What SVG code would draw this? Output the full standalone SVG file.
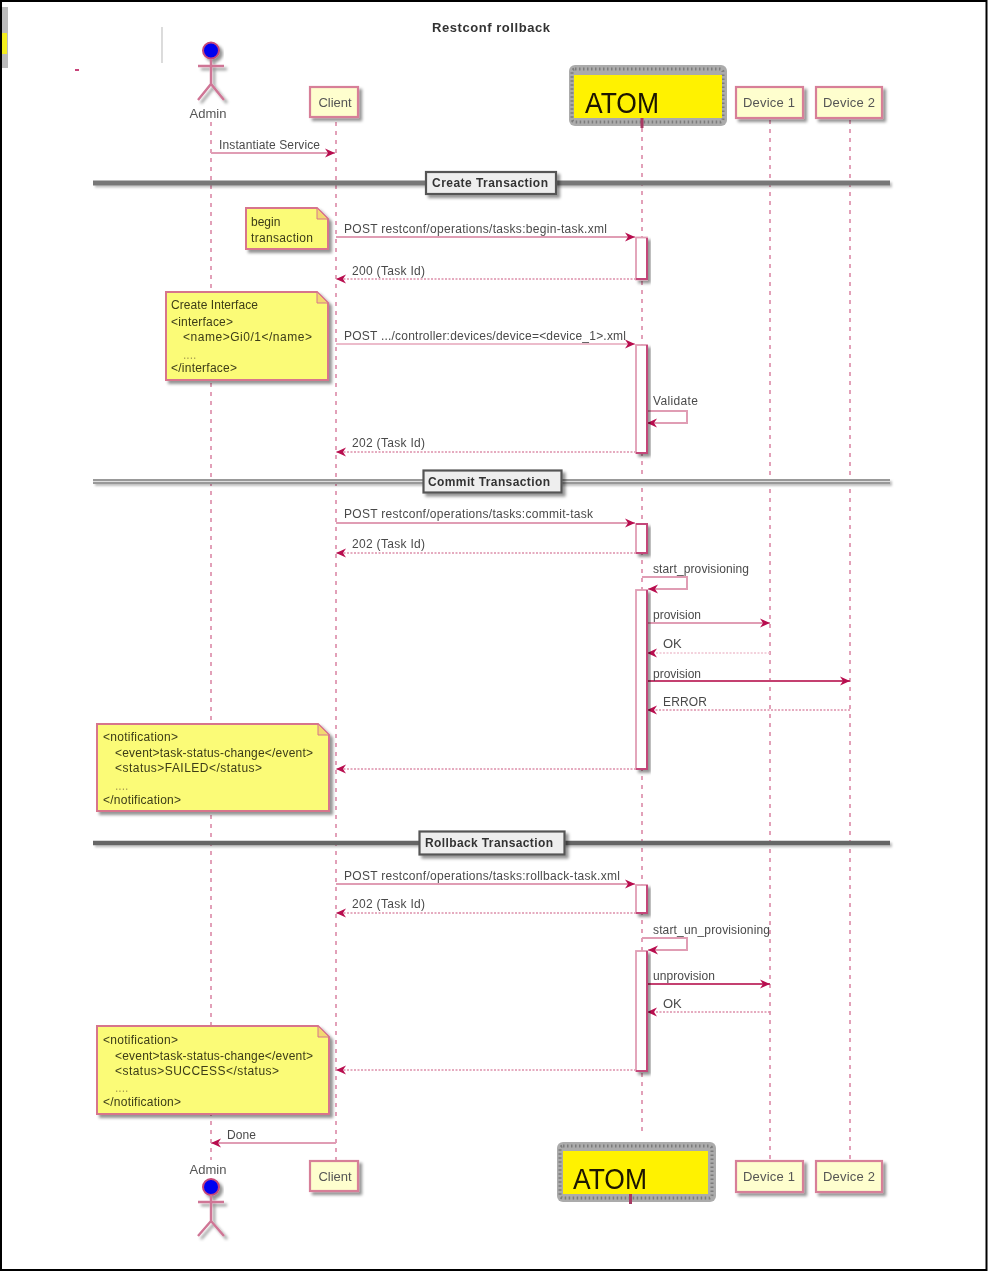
<svg xmlns="http://www.w3.org/2000/svg" width="988" height="1272" viewBox="0 0 988 1272">
<style>
text{font-family:"Liberation Sans",Arial,sans-serif;font-size:12px;fill:#4a4a4a;filter:url(#soft)}
.n{fill:#3c3c18;font-size:12px}
.p{font-size:13px;fill:#555}
.d{font-weight:bold;fill:#333;font-size:12px}
.life{stroke:#e2a0b8;stroke-width:2;stroke-dasharray:4 5;fill:none}
.sol{stroke:#e09db4;stroke-width:2;fill:none;marker-end:url(#ah)}
.dark{stroke:#c4406f;stroke-width:2;fill:none;marker-end:url(#ah)}
.dash{stroke:#dd90aa;stroke-width:1.6;stroke-dasharray:2 1.5;fill:none;marker-end:url(#ah)}
.part{fill:#FEFECE;stroke:#d77f98;stroke-width:2.2;filter:url(#sh)}
.note{fill:#FBFB77;stroke:#d7748c;stroke-width:2;filter:url(#sh)}
.fold{fill:#F2D870;stroke:#d7748c;stroke-width:1}
.act{fill:#fff;stroke:#e09db4;stroke-width:1.8;filter:url(#sh)}
.actr{stroke:#c4477a;stroke-width:2;fill:none}
.actor{fill:none;stroke:#cf7595;stroke-width:2.4;filter:url(#sh)}
.head{fill:#0000f0;stroke:#c4477a;stroke-width:2;filter:url(#sh)}
.divb{fill:#EEE;stroke:#555;stroke-width:2.2;filter:url(#sh)}
.atomo{fill:#ababab}
.atomd{fill:none;stroke:#7c7c7c;stroke-width:3;stroke-dasharray:1.5 2.500}
.atomt{font-size:29px;fill:#1a1200}
</style>
<defs>
<filter id="sh" x="-20%" y="-20%" width="150%" height="150%"><feDropShadow dx="3" dy="3" stdDeviation="1.6" flood-color="#000" flood-opacity=".42"/></filter>
<filter id="soft" x="-5%" y="-30%" width="110%" height="160%"><feGaussianBlur stdDeviation="0.55"/></filter>
<filter id="softg" filterUnits="userSpaceOnUse" x="0" y="0" width="988" height="1272"><feGaussianBlur stdDeviation="0.4"/></filter>
<filter id="divs" filterUnits="userSpaceOnUse" x="0" y="0" width="988" height="1272"><feDropShadow dx="2" dy="2" stdDeviation="1.3" flood-color="#000" flood-opacity=".25"/></filter>
<marker id="ah" markerUnits="userSpaceOnUse" markerWidth="12" markerHeight="10" refX="10" refY="5" orient="auto"><path d="M0,0.5 L10,5 L0,9.5 L3,5Z" fill="#b8104f"/></marker>
</defs>
<rect id="frame" x="1" y="1" width="985.500" height="1269" fill="#fff" stroke="#000" stroke-width="2"/>
<g id="artifacts">
<rect x="2" y="7" width="6" height="61" fill="#bbb"/><rect x="2" y="33" width="5" height="21" fill="#f4ee20"/>
<path d="M162 27V63" stroke="#c4c4c4" stroke-width="1.2"/><rect x="75" y="69" width="4" height="2" fill="#c8447a"/>
</g>
<text x="491" y="32" text-anchor="middle" class="d" textLength="118" style="font-size:13px">Restconf rollback</text>
<g id="lifelines">
<path class="life" d="M211 122V1160"/><path class="life" d="M336 122V1160"/><path class="life" d="M642 128V1135"/><path class="life" d="M770 120V1160"/><path class="life" d="M850 120V1160"/>
</g>
<g id="dividers">
<path d="M93 183H890" stroke="#777" stroke-width="5" filter="url(#divs)"/>
<path d="M93 481.500H890" stroke="#999" stroke-width="5" filter="url(#divs)"/><path d="M93 481.500H890" stroke="#ddd" stroke-width="1.2"/>
<path d="M93 843H890" stroke="#666" stroke-width="4.500" filter="url(#divs)"/>
</g>
<g id="connectors" filter="url(#softg)">
<path class="sol" d="M211 153H335"/>
<path class="sol" d="M336 237H635"/>
<path class="dash" d="M636 279H336"/>
<path class="sol" d="M336 344H635" style="stroke:#ecbccb"/>
<path class="sol" d="M647 411H687V423H647"/>
<path class="dash" d="M636 452H336"/>
<path class="sol" d="M336 523H635"/>
<path class="dash" d="M636 553H336"/>
<path class="sol" d="M642 577H687V589H648"/>
<path class="sol" d="M647 623H770"/>
<path class="dash" d="M770 653H647" style="stroke:#efc3d1"/>
<path class="dark" d="M647 681H850"/>
<path class="dash" d="M850 710H647"/>
<path class="dash" d="M636 769H336"/>
<path class="sol" d="M336 884H635"/>
<path class="dash" d="M636 913H336"/>
<path class="sol" d="M642 938H687V950H648"/>
<path class="dark" d="M647 984H770"/>
<path class="dash" d="M770 1012H647"/>
<path class="dash" d="M636 1070H336"/>
<path class="sol" d="M336 1143H211"/>
</g>
<g id="activations">
<rect class="act" x="636" y="237.500" width="11" height="42"/><path class="actr" d="M647 238V279H636"/>
<rect class="act" x="636" y="345" width="11" height="108"/><path class="actr" d="M647 345V453H636"/>
<rect class="act" x="636" y="524" width="11" height="29"/><path class="actr" d="M636 524H647V553H636"/>
<rect class="act" x="636" y="590" width="11" height="179"/><path class="actr" d="M647 590V769H636"/>
<rect class="act" x="636" y="885" width="11" height="28"/><path class="actr" d="M647 885V913H636"/>
<rect class="act" x="636" y="951" width="11" height="120"/><path class="actr" d="M647 951V1071H636"/>
</g>
<g id="msg-labels">
<text x="219" y="149" textLength="101">Instantiate Service</text>
<text x="344" y="233" textLength="263">POST restconf/operations/tasks:begin-task.xml</text>
<text x="352" y="275" textLength="73">200 (Task Id)</text>
<text x="344" y="340" textLength="282">POST .../controller:devices/device=&lt;device_1&gt;.xml</text>
<text x="653" y="405" textLength="45">Validate</text>
<text x="352" y="447" textLength="73">202 (Task Id)</text>
<text x="344" y="518" textLength="249">POST restconf/operations/tasks:commit-task</text>
<text x="352" y="548" textLength="73">202 (Task Id)</text>
<text x="653" y="573" textLength="96">start_provisioning</text>
<text x="653" y="619" textLength="48">provision</text>
<text x="663" y="648" style="font-size:13px">OK</text>
<text x="653" y="678" textLength="48">provision</text>
<text x="663" y="706" textLength="44">ERROR</text>
<text x="344" y="880" textLength="276">POST restconf/operations/tasks:rollback-task.xml</text>
<text x="352" y="908" textLength="73">202 (Task Id)</text>
<text x="653" y="934" textLength="117">start_un_provisioning</text>
<text x="653" y="980" textLength="62">unprovision</text>
<text x="663" y="1008" style="font-size:13px">OK</text>
<text x="227" y="1139" textLength="29">Done</text>
</g>
<g id="div-create"><rect class="divb" x="426" y="172" width="130" height="22"/><text class="d" x="432" y="187" textLength="116">Create Transaction</text></g>
<g id="div-commit"><rect class="divb" x="423.500" y="470.500" width="138" height="22"/><text class="d" x="428" y="486" textLength="122">Commit Transaction</text></g>
<g id="div-rollback"><rect class="divb" x="419.500" y="831.500" width="145" height="23"/><text class="d" x="425" y="847" textLength="128">Rollback Transaction</text></g>
<g id="note-begin"><path class="note" d="M246 208H317L328 219V249H246Z"/><path class="fold" d="M317 208V219H328Z"/><text class="n" x="251" y="226">begin</text><text class="n" x="251" y="242" textLength="62">transaction</text></g>
<g id="note-interface"><path class="note" d="M166 292H317L328 303V380H166Z"/><path class="fold" d="M317 292V303H328Z"/>
<text class="n" x="171" y="309" textLength="87">Create Interface</text><text class="n" x="171" y="326" textLength="62">&lt;interface&gt;</text><text class="n" x="183" y="341" textLength="129">&lt;name&gt;Gi0/1&lt;/name&gt;</text><text class="n" x="183" y="359" style="fill:#aaa050">....</text><text class="n" x="171" y="372" textLength="66">&lt;/interface&gt;</text></g>
<g id="note-failed"><path class="note" d="M97 724H318L329 735V811H97Z"/><path class="fold" d="M318 724V735H329Z"/>
<text class="n" x="103" y="741" textLength="75">&lt;notification&gt;</text><text class="n" x="115" y="757" textLength="198">&lt;event&gt;task-status-change&lt;/event&gt;</text><text class="n" x="115" y="772" textLength="147">&lt;status&gt;FAILED&lt;/status&gt;</text><text class="n" x="115" y="790" style="fill:#aaa050">....</text><text class="n" x="103" y="804" textLength="78">&lt;/notification&gt;</text></g>
<g id="note-success"><path class="note" d="M97 1026H318L329 1037V1114H97Z"/><path class="fold" d="M318 1026V1037H329Z"/>
<text class="n" x="103" y="1044" textLength="75">&lt;notification&gt;</text><text class="n" x="115" y="1060" textLength="198">&lt;event&gt;task-status-change&lt;/event&gt;</text><text class="n" x="115" y="1075" textLength="164">&lt;status&gt;SUCCESS&lt;/status&gt;</text><text class="n" x="115" y="1092" style="fill:#aaa050">....</text><text class="n" x="103" y="1106" textLength="78">&lt;/notification&gt;</text></g>
<g id="admin-top"><circle class="head" cx="211" cy="50.500" r="8"/><path class="actor" d="M211 59V84M198 66H224M198 100L211 84L224 100"/><text class="p" x="208" y="118" text-anchor="middle">Admin</text></g>
<g id="client-top"><rect class="part" x="310" y="87" width="48" height="30"/><text class="p" x="335" y="107" text-anchor="middle">Client</text></g>
<g id="atom-top"><rect class="atomo" x="569" y="65" width="158" height="61" rx="6"/><rect class="atomd" x="572" y="69" width="151" height="53" rx="3"/><rect x="574" y="75" width="148" height="43" fill="#FFF200"/><path d="M642 118V128" stroke="#a83a64" stroke-width="3"/><text class="atomt" x="585" y="113" textLength="74" lengthAdjust="spacingAndGlyphs">ATOM</text></g>
<g id="device1-top"><rect class="part" x="736" y="87" width="67" height="31"/><text class="p" x="769" y="107" text-anchor="middle" textLength="52">Device 1</text></g>
<g id="device2-top"><rect class="part" x="816" y="87" width="66" height="31"/><text class="p" x="849" y="107" text-anchor="middle" textLength="52">Device 2</text></g>
<g id="admin-bottom"><text class="p" x="208" y="1174" text-anchor="middle">Admin</text><circle class="head" cx="211" cy="1187" r="8"/><path class="actor" d="M211 1195V1221M198 1202H224M198 1236L211 1221L224 1236"/></g>
<g id="client-bottom"><rect class="part" x="310" y="1161" width="48" height="30"/><text class="p" x="335" y="1181" text-anchor="middle">Client</text></g>
<g id="atom-bottom"><rect class="atomo" x="557" y="1142" width="159" height="60" rx="6"/><rect class="atomd" x="560" y="1146" width="152" height="52" rx="3"/><rect x="563" y="1151" width="145" height="43" fill="#FFF200"/><path d="M630.500 1194V1204" stroke="#a83a64" stroke-width="3"/><text class="atomt" x="573" y="1189" textLength="74" lengthAdjust="spacingAndGlyphs">ATOM</text></g>
<g id="device1-bottom"><rect class="part" x="736" y="1161" width="67" height="31"/><text class="p" x="769" y="1181" text-anchor="middle" textLength="52">Device 1</text></g>
<g id="device2-bottom"><rect class="part" x="816" y="1161" width="66" height="31"/><text class="p" x="849" y="1181" text-anchor="middle" textLength="52">Device 2</text></g>
</svg>
